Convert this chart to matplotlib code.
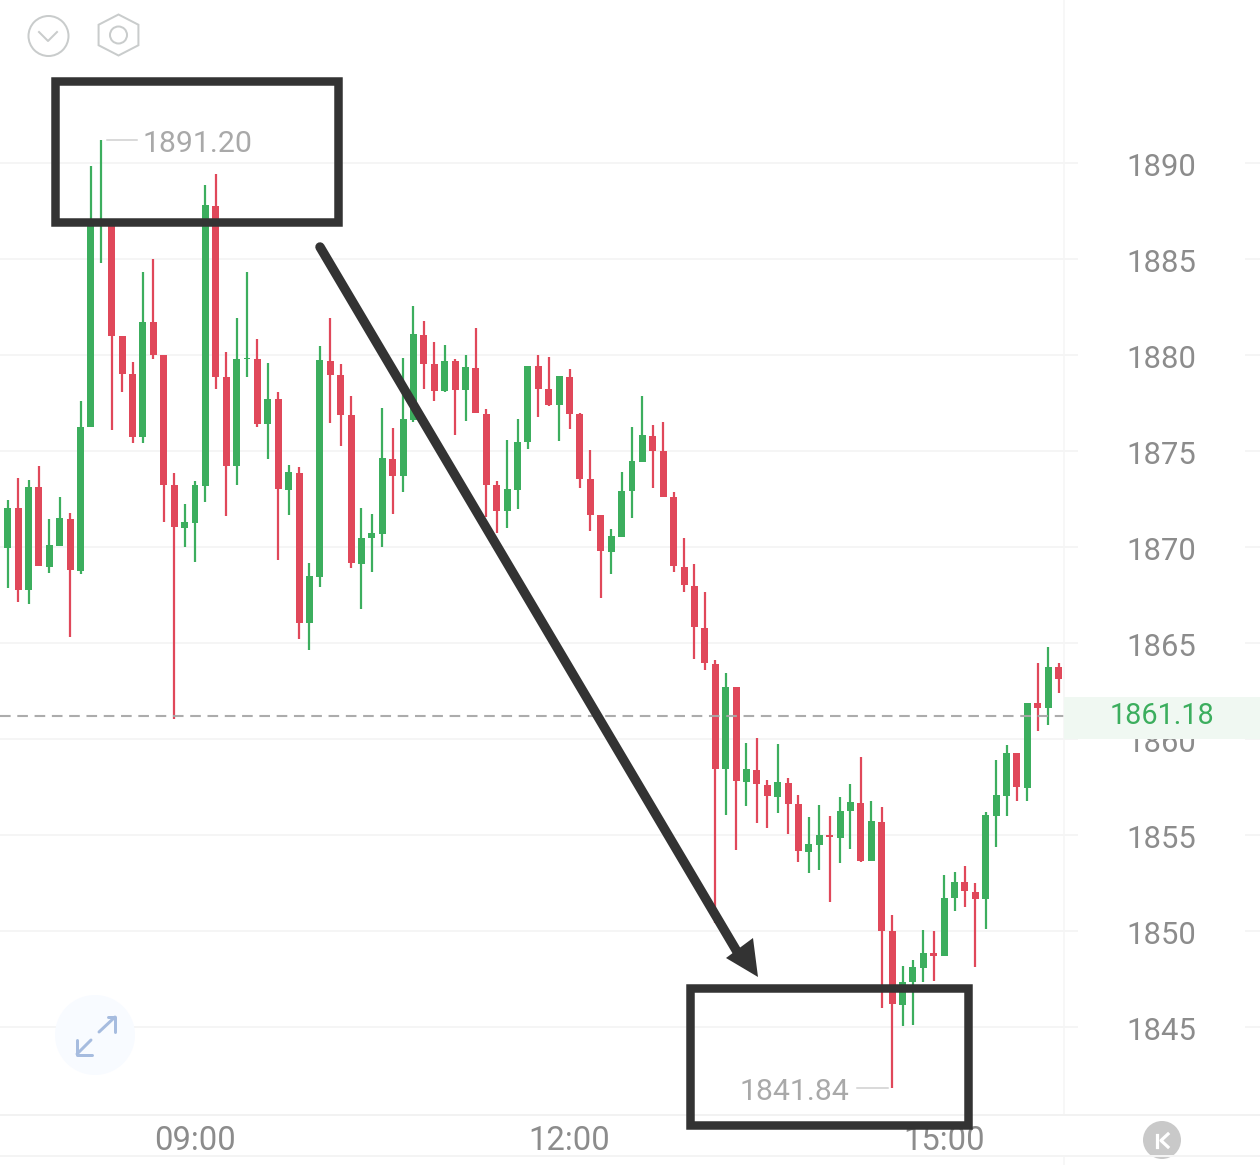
import numpy as np
import matplotlib
matplotlib.use("Agg")
import matplotlib.pyplot as plt
from matplotlib.patches import Circle, Polygon, Rectangle
from matplotlib.transforms import ScaledTranslation, blended_transform_factory

plt.rcParams['font.family'] = ['Roboto', 'DejaVu Sans']

# 5 minute candles, index 0 is 09:00
first_idx = -18
opens = [1869.95, 1872.03, 1867.76, 1873.12, 1868.96, 1870.05, 1871.46, 1868.75, 1876.25, 1886.77,
         1886.98, 1880.99, 1879.01, 1875.73, 1881.72, 1880.00, 1873.23, 1870.99, 1871.25, 1873.18,
         1887.76, 1878.85, 1874.22, 1879.79, 1879.79, 1876.41, 1877.71, 1872.97, 1873.85, 1866.04,
         1868.44, 1879.69, 1878.96, 1876.88, 1869.11, 1870.47, 1870.68, 1874.58, 1873.70, 1876.61,
         1881.04, 1879.53, 1878.12, 1879.69, 1878.18, 1879.32, 1876.93, 1873.23, 1871.88, 1872.97,
         1875.47, 1879.43, 1878.23, 1877.40, 1878.85, 1876.93, 1873.54, 1871.67, 1869.74, 1870.52,
         1872.92, 1874.43, 1875.78, 1875.00, 1872.60, 1868.96, 1867.97, 1865.78, 1863.91, 1858.44,
         1862.71, 1857.76, 1858.39, 1857.60, 1856.98, 1857.71, 1856.61, 1854.11, 1854.48, 1855.00,
         1854.84, 1856.25, 1856.67, 1853.65, 1855.68, 1850.00, 1846.15, 1847.34, 1848.07, 1848.85,
         1848.70, 1851.72, 1852.55, 1852.03, 1851.67, 1855.99, 1857.03, 1859.27, 1857.45, 1861.88,
         1861.61, 1863.75]
closes = [1872.03, 1867.76, 1873.12, 1869.01, 1870.10, 1871.51, 1868.80, 1876.25, 1886.98, 1887.08,
          1880.99, 1879.01, 1875.73, 1881.72, 1880.00, 1873.23, 1871.04, 1871.30, 1873.23, 1887.81,
          1878.85, 1874.22, 1879.79, 1879.84, 1876.41, 1877.71, 1873.02, 1873.91, 1866.04, 1868.49,
          1879.74, 1878.96, 1876.88, 1869.17, 1870.47, 1870.73, 1874.64, 1873.70, 1876.67, 1881.09,
          1879.53, 1878.12, 1879.69, 1878.18, 1879.38, 1876.98, 1873.23, 1871.88, 1873.02, 1875.47,
          1879.43, 1878.23, 1877.40, 1878.91, 1876.93, 1873.54, 1871.67, 1869.79, 1870.57, 1872.92,
          1874.48, 1875.83, 1875.00, 1872.60, 1869.01, 1868.02, 1865.83, 1863.96, 1858.44, 1862.71,
          1857.81, 1858.44, 1857.66, 1857.03, 1857.76, 1856.61, 1854.17, 1854.53, 1855.00, 1854.90,
          1856.25, 1856.72, 1853.65, 1855.73, 1850.00, 1846.20, 1847.34, 1848.13, 1848.85, 1848.70,
          1851.72, 1852.55, 1852.08, 1851.67, 1856.04, 1857.08, 1859.27, 1857.50, 1861.88, 1861.61,
          1863.75, 1863.13]
highs = [1872.45, 1873.59, 1873.49, 1874.22, 1871.46, 1872.60, 1871.77, 1877.60, 1889.84, 1891.20,
         1886.98, 1880.99, 1879.64, 1884.32, 1885.00, 1880.00, 1873.85, 1872.24, 1873.44, 1888.85,
         1889.43, 1880.16, 1881.93, 1884.32, 1880.83, 1879.58, 1878.07, 1874.27, 1874.17, 1869.17,
         1880.47, 1881.93, 1879.53, 1877.86, 1872.03, 1871.72, 1877.24, 1876.20, 1879.84, 1882.55,
         1881.77, 1880.68, 1880.52, 1879.79, 1880.00, 1881.41, 1877.19, 1873.44, 1875.57, 1876.67,
         1879.43, 1880.00, 1879.90, 1878.91, 1879.27, 1876.98, 1875.05, 1871.67, 1870.94, 1873.91,
         1876.25, 1877.86, 1876.35, 1876.51, 1872.86, 1870.47, 1869.11, 1867.66, 1864.11, 1863.44,
         1862.71, 1859.79, 1860.05, 1857.86, 1859.74, 1857.97, 1857.08, 1855.94, 1856.56, 1855.99,
         1856.98, 1857.66, 1859.06, 1856.77, 1856.46, 1850.83, 1848.18, 1848.49, 1850.05, 1850.00,
         1852.92, 1853.07, 1853.39, 1852.50, 1856.20, 1858.91, 1859.69, 1859.27, 1861.88, 1863.96,
         1864.79, 1863.96]
lows = [1867.86, 1867.14, 1867.03, 1869.01, 1868.65, 1870.05, 1865.31, 1868.59, 1876.25, 1884.79,
        1876.09, 1878.07, 1875.42, 1875.42, 1879.79, 1871.30, 1861.04, 1870.00, 1869.22, 1872.34,
        1878.23, 1871.61, 1873.23, 1878.85, 1876.25, 1874.58, 1869.32, 1871.67, 1865.21, 1864.64,
        1867.92, 1876.46, 1875.26, 1868.91, 1866.77, 1868.70, 1870.00, 1871.72, 1872.86, 1876.51,
        1878.23, 1877.60, 1878.07, 1875.83, 1876.56, 1876.98, 1871.56, 1870.73, 1870.99, 1871.98,
        1875.10, 1876.77, 1877.34, 1875.52, 1876.15, 1873.07, 1870.83, 1867.34, 1868.59, 1870.52,
        1871.51, 1874.43, 1873.07, 1872.60, 1868.70, 1867.66, 1864.17, 1863.59, 1850.42, 1856.04,
        1854.22, 1856.51, 1855.63, 1855.36, 1856.15, 1855.05, 1853.59, 1853.02, 1853.18, 1851.51,
        1853.54, 1854.27, 1853.59, 1853.65, 1845.99, 1841.84, 1845.05, 1845.10, 1847.34, 1847.40,
        1848.70, 1851.04, 1851.25, 1848.13, 1850.10, 1854.38, 1855.99, 1856.77, 1856.77, 1860.42,
        1860.73, 1862.40]

price_ticks = [1890, 1885, 1880, 1875, 1870, 1865, 1860, 1855, 1850, 1845]
time_ticks = [0, 36, 72]
time_labels = ['09:00', '12:00', '15:00']
last_price = 1861.18

RED = '#e0485a'
GREEN = '#3cae5e'
TEXT = '#8c8c8c'
GRID = '#f4f4f4'
INK = '#333333'

W, H = 1260, 1165
fig = plt.figure(figsize=(W / 100, H / 100), dpi=100)
ax = fig.add_axes([0, 50 / H, 1064 / W, 1115 / H])
ax.set_xlim(-18.74, 83.52)
ax.set_ylim(1840.42, 1898.49)
ax.set_facecolor('none')
for s in ax.spines.values():
    s.set_visible(False)

# price axis on the right, time axis below
ax.yaxis.tick_right()
ax.set_yticks(price_ticks)
ax.set_yticklabels([str(p) for p in price_ticks], fontsize=22.3, color=TEXT)
ax.tick_params(axis='y', length=0, pad=45)
ax.set_xticks(time_ticks)
ax.set_xticklabels(time_labels, fontsize=23.6, color=TEXT)
ax.tick_params(axis='x', length=0, pad=7.5)

# price labels sit slightly below their grid line
label_shift = ScaledTranslation(0, -1 / 100, fig.dpi_scale_trans)
for tick in ax.yaxis.get_major_ticks():
    tick.label2.set_transform(tick.label2.get_transform() + label_shift)

# grid runs a little past the axis, plus a short piece at the far right
ytrans = ax.get_yaxis_transform()
ax.hlines(price_ticks, 0, 1078 / 1064, transform=ytrans, color=GRID, lw=1.3, zorder=0, clip_on=False)
ax.hlines(price_ticks, 1245 / 1064, W / 1064, transform=ytrans, color=GRID, lw=1.3, zorder=0, clip_on=False)

xs = np.arange(first_idx, first_idx + len(opens))
o = np.array(opens)
c = np.array(closes)
colors = [GREEN if up else RED for up in c >= o]

ax.vlines(xs, lows, highs, colors=colors, lw=1.6, zorder=2)
ax.bar(xs, np.maximum(np.abs(c - o), 0.08), bottom=np.minimum(o, c), width=0.67, color=colors, zorder=3)

ax.axhline(last_price, color='#a8a8a8', lw=1.5, linestyle=(0, (5.1, 3.2)), zorder=4, alpha=0.95)

# extreme labels
hi = int(np.argmax(highs))
lo = int(np.argmin(lows))
ax.annotate(f'{highs[hi]:.2f}', xy=(xs[hi], highs[hi]), xytext=(41, -4), textcoords='offset pixels',
            ha='left', va='center', fontsize=21.8, color='#a9a9a9', zorder=5)
ax.annotate(f'{lows[lo]:.2f}', xy=(xs[lo], lows[lo]), xytext=(-43, -4), textcoords='offset pixels',
            ha='right', va='center', fontsize=21.8, color='#a9a9a9', zorder=5)

# overlay in image pixels for frames, arrow and buttons
ov = fig.add_axes([0, 0, 1, 1])
ov.set_xlim(0, W)
ov.set_ylim(H, 0)
ov.axis('off')
ov.patch.set_alpha(0)
px = 0.72
price_y = blended_transform_factory(ov.transData, ax.transData)

# frame lines of the layout
ov.plot([1064, 1064], [0, 1115], color='#f5f5f5', lw=1.5 * px)
ov.plot([1064, 1064], [1156, H], color='#f5f5f5', lw=1.5 * px)
ov.plot([0, W], [1115, 1115], color='#f2f2f2', lw=2 * px)
ov.plot([0, W], [1156, 1156], color='#f4f4f4', lw=2 * px)

# leader lines next to the extreme labels
ov.plot([107, 137], [highs[hi], highs[hi]], transform=price_y, color='#cfcfcf', lw=1.5 * px)
ov.plot([857, 888], [lows[lo], lows[lo]], transform=price_y, color='#cfcfcf', lw=1.5 * px)

# last price tag, sits on top of the 1860 label
y0, y1 = last_price + 1.0, last_price - 1.17
ov.add_patch(Rectangle((1064, y1), W - 1064, y0 - y1, transform=price_y, color='#f0f8f2', lw=0, zorder=3))
ov.text(1162, last_price, f'{last_price:.2f}', transform=price_y, ha='center', va='center',
        fontsize=20.8, color=GREEN, zorder=4)

# hand drawn frames and arrow
ov.add_patch(Rectangle((55, 81), 283, 141, fill=False, ec=INK, lw=8.5 * px, joinstyle='miter', zorder=6))
ov.add_patch(Rectangle((690, 988), 278, 137, fill=False, ec=INK, lw=8.5 * px, joinstyle='miter', zorder=6))
ov.plot([320, 742], [247, 960], color=INK, lw=9.5 * px, solid_capstyle='round', zorder=6)
ov.add_patch(Polygon([(758, 977), (726, 958), (753, 938)], closed=True, color=INK, lw=0, zorder=6))

# top left buttons
icon = '#c9cccc'
ov.add_patch(Circle((48.5, 36), 20, fill=False, ec=icon, lw=2 * px))
ov.plot([39, 48, 57], [32, 41, 32], color=icon, lw=2 * px)
ang = np.deg2rad(np.arange(30, 390, 60))
ov.add_patch(Polygon(np.c_[118.5 + 23 * np.cos(ang), 35 + 20.5 * np.sin(ang)], closed=True,
                     fill=False, ec=icon, lw=2 * px))
ov.add_patch(Circle((118.5, 35), 8.5, fill=False, ec=icon, lw=2 * px))

# expand button
ov.add_patch(Circle((95, 1035), 40, color='#f8fbff', lw=0, zorder=1))
blue = '#a6bcdf'
for seg in ([(99, 1032), (115, 1017)], [(108, 1017), (115, 1017), (115, 1032)],
            [(91, 1040), (77, 1054)], [(77, 1040), (77, 1055), (92, 1055)]):
    ov.plot(*zip(*seg), color=blue, lw=3 * px, solid_capstyle='round', zorder=2)

# K button
ov.add_patch(Circle((1162, 1140), 19, color='#c9c9c9', lw=0))
ov.plot([1156.5, 1156.5], [1135, 1147], color='white', lw=3.2 * px)
ov.plot([1168, 1161, 1168], [1134, 1140.5, 1147], color='white', lw=3.2 * px)

fig.savefig('out.png', dpi=100, facecolor='white')
